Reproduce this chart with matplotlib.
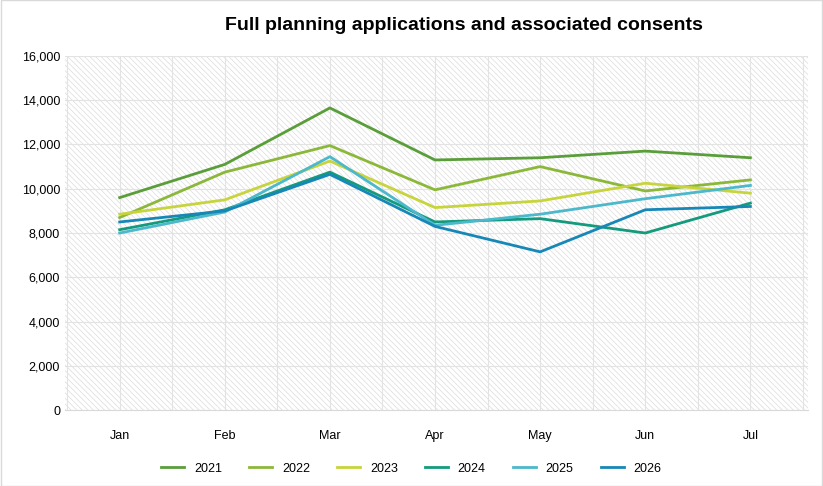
import numpy as np
import matplotlib.pyplot as plt

months = ['Jan', 'Feb', 'Mar', 'Apr', 'May', 'Jun', 'Jul']
years = ['2021', '2022', '2023', '2024', '2025', '2026']
v2021 = [9600, 11100, 13650, 11300, 11400, 11700, 11400]
v2022 = [8700, 10750, 11950, 9950, 11000, 9900, 10400]
v2023 = [8850, 9500, 11250, 9150, 9450, 10250, 9800]
v2024 = [8150, 9050, 10750, 8500, 8650, 8000, 9350]
v2025 = [8000, 8950, 11450, 8350, 8850, 9550, 10150]
v2026 = [8500, 9000, 10650, 8300, 7150, 9050, 9200]
series = [v2021, v2022, v2023, v2024, v2025, v2026]
colors = ['#5a9e3a', '#8cb83a', '#c8d43c', '#149a7c', '#4bb8cc', '#1787b8']

plt.rcParams['font.family'] = ['Liberation Sans', 'DejaVu Sans']
plt.rcParams['hatch.linewidth'] = 0.5
fig = plt.figure(figsize=(8.23, 4.86), dpi=100)
ax = fig.add_axes([0.079, 0.156, 0.903, 0.729])

# hatched plot background
ax.add_patch(plt.Rectangle((0, 0), 1, 1, transform=ax.transAxes, facecolor='white',
                           edgecolor='#dcdcdc', hatch='\\\\\\\\\\\\', lw=0, zorder=0))

x = np.arange(len(months))
for name, vals, c in zip(years, series, colors):
    ax.plot(x, vals, color=c, lw=2, label=name, zorder=3)

ax.set_xlim(-0.52, 6.55)
ax.set_ylim(0, 16000)
ax.set_yticks(range(0, 16001, 2000))
ax.set_yticklabels([f'{v:,}' for v in range(0, 16001, 2000)])
ax.set_xticks(x)
ax.set_xticklabels(months)
ax.set_xticks(np.arange(-0.5, 6.6, 0.5), minor=True)
ax.grid(True, which='both', axis='x', color='#e3e3e3', lw=0.8, zorder=1)
ax.grid(True, which='major', axis='y', color='#e3e3e3', lw=0.8, zorder=1)
ax.tick_params(which='both', length=0, labelsize=9)
ax.tick_params(axis='x', pad=14)
for s in ['top', 'right', 'left']:
    ax.spines[s].set_visible(False)
ax.spines['bottom'].set_color('#d9d9d9')
ax.set_axisbelow(True)

fig.suptitle('Full planning applications and associated consents', x=0.564, y=0.965,
             fontsize=14, fontweight='bold')
fig.legend(loc='lower center', bbox_to_anchor=(0.5, 0.0), ncol=6, frameon=False,
           fontsize=9, handlelength=1.8, columnspacing=2.2)
fig.patches.append(plt.Rectangle((0.001, 0.001), 0.998, 0.998, transform=fig.transFigure,
                                 fill=False, edgecolor='#d9d9d9', lw=1))
fig.savefig('out.png', dpi=100)
